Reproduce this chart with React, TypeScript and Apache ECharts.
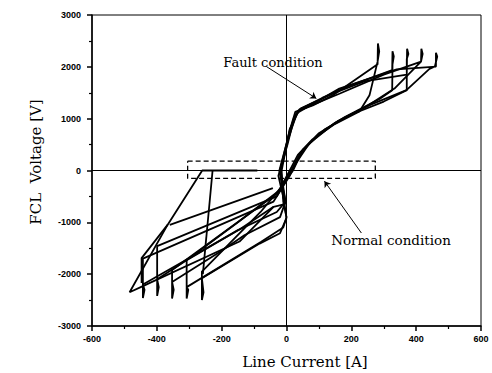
import React, { useEffect, useRef } from "react";
import * as echarts from "echarts";

// Loop traces (Line current [A], FCL voltage [V])
const loop1: number[][] = [
  [0, -920], [-5, -700], [-20, 0], [9, 750], [27, 1130], [81, 1255], [143, 1450], [281, 2050],
  [282, 2450], [286, 2300], [281, 2100], [256, 1450], [225, 1140], [150, 900], [80, 600],
  [35, 300], [10, 0], [-20, -350], [-80, -800], [-261, -1950], [-261, -2500], [-256, -2350],
  [-261, -2080], [-83, -1410], [-20, -1210], [0, -920],
];
const loop2: number[][] = [
  [0, -900], [-10, -600], [-15, 0], [10, 800], [40, 1180], [110, 1400], [200, 1650], [326, 1935],
  [327, 2300], [331, 2200], [327, 2050], [326, 1550], [287, 1380], [180, 1030], [100, 720],
  [45, 350], [15, 0], [-25, -400], [-150, -1000], [-308, -1730], [-308, -2470], [-303, -2300],
  [-308, -2250], [-78, -1374], [-10, -1100], [0, -900],
];
const loop3: number[][] = [
  [-3, -600], [-22, 0], [8, 700], [22, 1000], [45, 1200], [150, 1500], [240, 1720], [371, 1850],
  [372, 2350], [376, 2250], [371, 2150], [371, 1550], [300, 1330], [200, 1080], [120, 800],
  [50, 400], [20, 0], [-30, -450], [-353, -1920], [-353, -2470], [-348, -2300], [-353, -2150],
  [-200, -1550], [-130, -1250], [-20, -900], [-3, -600],
];
const loop4: number[][] = [
  [-3, -600], [-18, 0], [5, 600], [18, 850], [35, 1150], [163, 1480], [300, 1850], [415, 2100],
  [416, 2350], [420, 2250], [415, 2100], [333, 1580], [250, 1250], [150, 920], [70, 520],
  [25, 100], [-30, -500], [-399, -1460], [-399, -2420], [-394, -2250], [-399, -2100],
  [-300, -1700], [-150, -1150], [-30, -800], [-3, -600],
];
const loop5: number[][] = [
  [-5, -650], [-25, -100], [3, 500], [15, 800], [30, 1100], [163, 1580], [340, 1950], [461, 2005],
  [461, 2270], [465, 2200], [458, 2010], [441, 1960], [370, 1550], [260, 1270], [160, 960],
  [90, 650], [40, 300], [10, -100], [-40, -600], [-443, -1700], [-443, -2460], [-438, -2300],
  [-443, -2200], [-145, -1140], [-40, -700], [-5, -650],
];
const extraA: number[][] = [[-90, 0], [-260, 0], [-367, -1050], [-447, -1690], [-447, -2170]];
const extraB: number[][] = [[-367, -1050], [-484, -2350], [-443, -2230], [-145, -1370], [-40, -700]];
const extraC: number[][] = [[-228, 0], [-258, -2000]];
const extraD: number[][] = [[-42, -340], [-360, -1050]];

// Dashed "normal condition" box
const normalBox: number[][] = [[-305, 180], [274, 180], [274, -150], [-305, -150], [-305, 180]];

// Annotation arrows [from, to]
const faultArrow: number[][] = [[-62, 2006], [92, 1390]];
const normalArrow: number[][] = [[231, -1206], [117, -205]];

const xMin = -600, xMax = 600, xStep = 200;
const yMin = -3000, yMax = 3000, yStep = 1000;

const traces = [loop1, loop2, loop3, loop4, loop5, extraA, extraB, extraC, extraD];

export default function App() {
  const ref = useRef<HTMLDivElement>(null);
  useEffect(() => {
    if (!ref.current) return;
    const chart = echarts.init(ref.current, undefined, { renderer: "svg" });
    const tickFont = { color: "#000", fontSize: 9, fontWeight: "bold" as const, fontFamily: "Liberation Sans" };
    const series: any[] = traces.map((d) => ({
      type: "line",
      data: d,
      showSymbol: false,
      symbol: "none",
      lineStyle: { color: "#000", width: 1.8 },
      silent: true,
    }));
    series.push({
      type: "line",
      data: normalBox,
      symbol: "none",
      lineStyle: { color: "#000", width: 1.3, type: [5, 3] },
      silent: true,
    });
    series.push({
      type: "line",
      data: [],
      silent: true,
      markLine: {
        silent: true,
        symbol: ["none", "none"],
        label: { show: false },
        lineStyle: { color: "#000", width: 1, type: "solid" },
        data: [{ xAxis: 0 }, { yAxis: 0 }],
      },
    });
    series.push({
      type: "line",
      data: [],
      silent: true,
      markLine: {
        silent: true,
        symbol: ["none", "arrow"],
        symbolSize: 6,
        label: { show: false },
        lineStyle: { color: "#000", width: 1, type: "solid" },
        data: [
          [{ coord: faultArrow[0] }, { coord: faultArrow[1] }],
          [{ coord: normalArrow[0] }, { coord: normalArrow[1] }],
        ],
      },
    });
    chart.setOption({
      animation: false,
      backgroundColor: "#fff",
      grid: { left: 92, right: 11, top: 15, bottom: 47, show: true, borderColor: "#000", borderWidth: 1 },
      xAxis: {
        type: "value",
        min: xMin,
        max: xMax,
        interval: xStep,
        axisLine: { onZero: false, lineStyle: { color: "#000", width: 1.5 } },
        axisTick: { inside: false, length: 5, lineStyle: { color: "#000", width: 1.5 } },
        minorTick: { show: true, splitNumber: 2, length: 3, lineStyle: { color: "#000", width: 1.2 } },
        splitLine: { show: false },
        axisLabel: { ...tickFont, margin: 8, formatter: (v: number) => String(v) },
      },
      yAxis: {
        type: "value",
        min: yMin,
        max: yMax,
        interval: yStep,
        axisLine: { onZero: false, lineStyle: { color: "#000", width: 1.5 } },
        axisTick: { inside: false, length: 5, lineStyle: { color: "#000", width: 1.5 } },
        minorTick: { show: true, splitNumber: 2, length: 3, lineStyle: { color: "#000", width: 1.2 } },
        splitLine: { show: false },
        axisLabel: { ...tickFont, margin: 11, formatter: (v: number) => String(v) },
      },
      graphic: [
        {
          type: "text", x: 36, y: 162, rotation: Math.PI / 2,
          style: { text: "FCL  Voltage [V]", font: "15px 'DejaVu Serif'", fill: "#000", align: "center", verticalAlign: "middle" },
        },
        {
          type: "text", x: 305, y: 362,
          style: { text: "Line Current [A]", font: "15px 'DejaVu Serif'", fill: "#000", align: "center", verticalAlign: "middle" },
        },
        {
          type: "text", x: 273, y: 62,
          style: { text: "Fault condition", font: "13px 'DejaVu Serif'", fill: "#000", align: "center", verticalAlign: "middle" },
        },
        {
          type: "text", x: 391, y: 240,
          style: { text: "Normal condition", font: "13.5px 'DejaVu Serif'", fill: "#000", align: "center", verticalAlign: "middle" },
        },
      ],
      series,
    });
    return () => chart.dispose();
  }, []);
  return <div ref={ref} style={{ width: 492, height: 373, position: "absolute", left: 0, top: 0 }} />;
}
